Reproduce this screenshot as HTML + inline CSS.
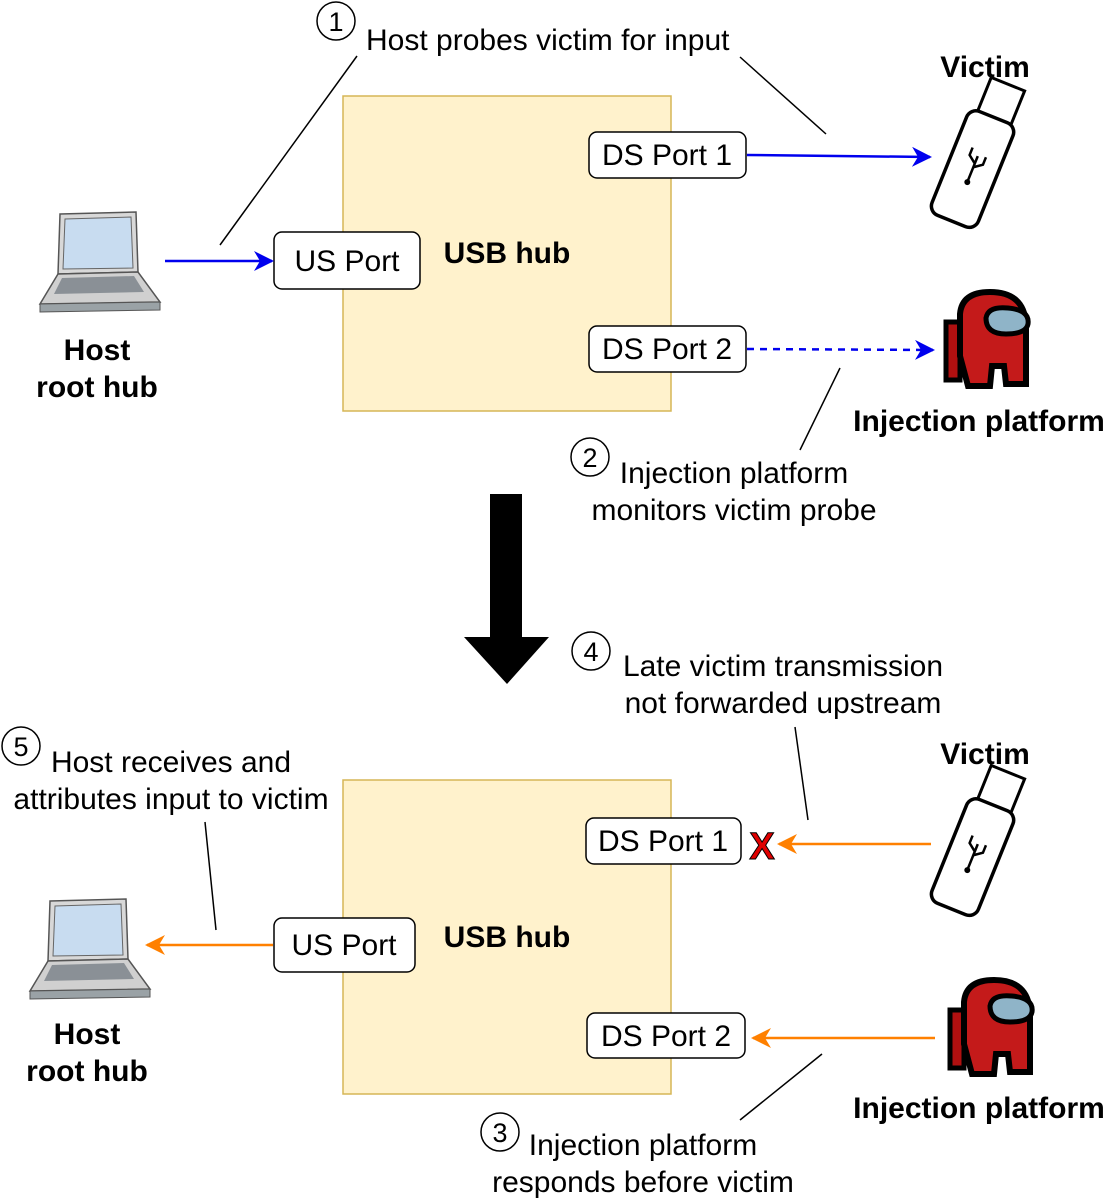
<!DOCTYPE html>
<html><head><meta charset="utf-8"><style>
html,body{margin:0;padding:0;background:#fff}
svg{display:block}
text{font-family:"Liberation Sans",Arial,sans-serif;fill:#000}
.t{font-size:30px}
.b{font-size:30px;font-weight:bold}
</style></head><body>
<svg width="1117" height="1200" viewBox="0 0 1117 1200" xmlns="http://www.w3.org/2000/svg">
<defs>
<marker id="ab" viewBox="0 0 10 10" refX="9" refY="5" markerWidth="8" markerHeight="8" orient="auto" markerUnits="strokeWidth"><path d="M0,0 L10,5 L0,10 L3,5 z" fill="#0000ee"/></marker>
<marker id="ao" viewBox="0 0 10 10" refX="9" refY="5" markerWidth="8" markerHeight="8" orient="auto" markerUnits="strokeWidth"><path d="M0,0 L10,5 L0,10 L3,5 z" fill="#ff8000"/></marker>
<g id="laptop">
<path d="M12,4 L88,2 L90,62 L10,64 z" fill="#d8d8d8" stroke="#555" stroke-width="1.5"/>
<path d="M17,9 L83,7 L85,58 L15,59 z" fill="#c8dcf0" stroke="#666"/>
<path d="M10,64 L90,62 L112,92 L-8,94 z" fill="#d0d0d0" stroke="#555" stroke-width="1.5"/>
<path d="M14,68 L86,66 L96,82 L6,84 z" fill="#8a9096"/>
<path d="M-8,94 L112,92 L112,100 L-8,102 z" fill="#9aa2a6" stroke="#555"/>
</g>
<g id="usb">
<g transform="rotate(22)">
<rect x="-14" y="-78" width="36" height="38" fill="#fff" stroke="#000" stroke-width="3"/>
<rect x="-22" y="-42" width="50" height="112" rx="10" fill="#fff" stroke="#000" stroke-width="3.5"/>
<path d="M3,0 v26 M3,8 l-8,-6 v-8 M3,12 l8,-6 v-8" stroke="#000" stroke-width="2.5" fill="none"/>
<circle cx="3" cy="28" r="3" fill="#000"/>
</g>
</g>
<g id="among">
<path d="M6,30 h14 v58 h-14 z" fill="#b01010" stroke="#000" stroke-width="5"/>
<path d="M20,22 Q22,0 50,0 Q84,0 86,32 L86,92 L66,92 L64,74 L52,74 L50,94 L28,94 L20,64 z" fill="#c41a1a" stroke="#000" stroke-width="6"/>
<path d="M46,26 Q48,14 68,16 Q90,18 88,32 Q86,42 66,42 Q46,42 46,26 z" fill="#8fb4c8" stroke="#000" stroke-width="5"/>
</g>
</defs>

<!-- TOP -->
<rect x="343" y="96" width="328" height="315" fill="#fff2cc" stroke="#d6b656" stroke-width="1.5"/>
<rect x="274" y="232" width="146" height="57" rx="8" fill="#fff" stroke="#000" stroke-width="1.5"/>
<text class="t" x="347" y="271" text-anchor="middle">US Port</text>
<rect x="589" y="132" width="157" height="46" rx="8" fill="#fff" stroke="#000" stroke-width="1.5"/>
<text class="t" x="667" y="165" text-anchor="middle">DS Port 1</text>
<rect x="589" y="326" width="157" height="46" rx="8" fill="#fff" stroke="#000" stroke-width="1.5"/>
<text class="t" x="667" y="359" text-anchor="middle">DS Port 2</text>
<text class="b" x="507" y="263" text-anchor="middle">USB hub</text>

<line x1="165" y1="261" x2="272" y2="261" stroke="#0000ee" stroke-width="2.5" marker-end="url(#ab)"/>
<line x1="747" y1="155" x2="930" y2="157" stroke="#0000ee" stroke-width="2.5" marker-end="url(#ab)"/>
<line x1="747" y1="349" x2="933" y2="350" stroke="#0000ee" stroke-width="2.5" stroke-dasharray="7,6" marker-end="url(#ab)"/>

<circle cx="336" cy="21" r="19" fill="#fff" stroke="#000" stroke-width="1.5"/>
<text class="t" x="336" y="31" text-anchor="middle" style="font-size:27px">1</text>
<text class="t" x="366" y="50">Host probes victim for input</text>
<line x1="357" y1="56" x2="220" y2="245" stroke="#000" stroke-width="1.5"/>
<line x1="740" y1="57" x2="826" y2="134" stroke="#000" stroke-width="1.5"/>

<use href="#laptop" x="48" y="210"/>
<text class="b" x="97" y="360" text-anchor="middle">Host</text>
<text class="b" x="97" y="397" text-anchor="middle">root hub</text>
<text class="b" x="985" y="77" text-anchor="middle">Victim</text>
<use href="#usb" x="975" y="155"/>
<use href="#among" x="940" y="292"/>
<text class="b" x="979" y="431" text-anchor="middle">Injection platform</text>

<circle cx="590" cy="457" r="19" fill="#fff" stroke="#000" stroke-width="1.5"/>
<text class="t" x="590" y="467" text-anchor="middle" style="font-size:27px">2</text>
<text class="t" x="734" y="483" text-anchor="middle">Injection platform</text>
<text class="t" x="734" y="520" text-anchor="middle">monitors victim probe</text>
<line x1="840" y1="368" x2="800" y2="450" stroke="#000" stroke-width="1.5"/>

<path d="M490,494 H522 V637 H549 L507,684 L464,637 H490 z" fill="#000"/>

<!-- BOTTOM -->
<rect x="343" y="780" width="328" height="314" fill="#fff2cc" stroke="#d6b656" stroke-width="1.5"/>
<rect x="274" y="918" width="141" height="54" rx="8" fill="#fff" stroke="#000" stroke-width="1.5"/>
<text class="t" x="344" y="955" text-anchor="middle">US Port</text>
<rect x="586" y="818" width="155" height="46" rx="8" fill="#fff" stroke="#000" stroke-width="1.5"/>
<text class="t" x="663" y="851" text-anchor="middle">DS Port 1</text>
<rect x="587" y="1013" width="158" height="45" rx="8" fill="#fff" stroke="#000" stroke-width="1.5"/>
<text class="t" x="666" y="1046" text-anchor="middle">DS Port 2</text>
<text class="b" x="507" y="947" text-anchor="middle">USB hub</text>

<line x1="931" y1="844" x2="779" y2="844" stroke="#ff8000" stroke-width="2.5" marker-end="url(#ao)"/>
<line x1="935" y1="1038" x2="753" y2="1038" stroke="#ff8000" stroke-width="2.5" marker-end="url(#ao)"/>
<line x1="273" y1="945" x2="147" y2="945" stroke="#ff8000" stroke-width="2.5" marker-end="url(#ao)"/>
<text x="762" y="859" text-anchor="middle" style="font-size:38px;font-weight:bold;fill:#e00000;stroke:#000;stroke-width:1">X</text>

<circle cx="591" cy="651" r="19" fill="#fff" stroke="#000" stroke-width="1.5"/>
<text class="t" x="591" y="661" text-anchor="middle" style="font-size:27px">4</text>
<text class="t" x="783" y="676" text-anchor="middle">Late victim transmission</text>
<text class="t" x="783" y="713" text-anchor="middle">not forwarded upstream</text>
<line x1="795" y1="727" x2="808" y2="820" stroke="#000" stroke-width="1.5"/>

<circle cx="21" cy="746" r="19" fill="#fff" stroke="#000" stroke-width="1.5"/>
<text class="t" x="21" y="756" text-anchor="middle" style="font-size:27px">5</text>
<text class="t" x="171" y="772" text-anchor="middle">Host receives and</text>
<text class="t" x="171" y="809" text-anchor="middle">attributes input to victim</text>
<line x1="205" y1="822" x2="216" y2="930" stroke="#000" stroke-width="1.5"/>

<circle cx="500" cy="1132" r="19" fill="#fff" stroke="#000" stroke-width="1.5"/>
<text class="t" x="500" y="1142" text-anchor="middle" style="font-size:27px">3</text>
<text class="t" x="643" y="1155" text-anchor="middle">Injection platform</text>
<text class="t" x="643" y="1192" text-anchor="middle">responds before victim</text>
<line x1="822" y1="1054" x2="740" y2="1120" stroke="#000" stroke-width="1.5"/>

<use href="#laptop" x="38" y="897"/>
<text class="b" x="87" y="1044" text-anchor="middle">Host</text>
<text class="b" x="87" y="1081" text-anchor="middle">root hub</text>
<text class="b" x="985" y="764" text-anchor="middle">Victim</text>
<use href="#usb" x="975" y="843"/>
<use href="#among" x="944" y="980"/>
<text class="b" x="979" y="1118" text-anchor="middle">Injection platform</text>
</svg>
</body></html>
